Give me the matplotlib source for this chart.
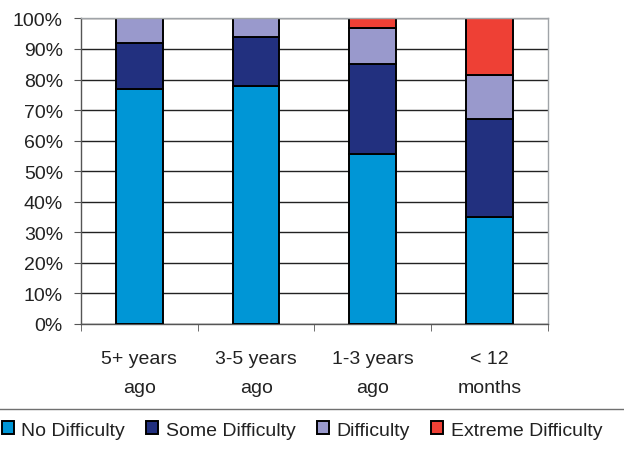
import matplotlib.pyplot as plt
import numpy as np
from matplotlib.lines import Line2D

plt.rcParams['font.family'] = ['Liberation Sans', 'DejaVu Sans']

categories = ['5+ years\nago', '3-5 years\nago', '1-3 years\nago', '< 12\nmonths']
series = ['No Difficulty', 'Some Difficulty', 'Difficulty', 'Extreme Difficulty']
no_difficulty = [77, 78, 55.5, 35]
some_difficulty = [15, 16, 29.5, 32]
difficulty = [8, 6, 12, 14.5]
extreme_difficulty = [0, 0, 3, 18.5]
colors = ['#0096D6', '#22307F', '#9999CC', '#EE4035']

fs = 14
fig = plt.figure(figsize=(6.24, 4.52), dpi=100)
ax = fig.add_axes([0.1298, 0.281, 0.878 - 0.1298, 0.957 - 0.281])

x = np.arange(len(categories))
bottom = np.zeros(len(categories))
for name, vals, col in zip(series, [no_difficulty, some_difficulty, difficulty, extreme_difficulty], colors):
    ax.bar(x, vals, 0.4, bottom=bottom, color=col, edgecolor='black', linewidth=1.4,
           label=name, zorder=3)
    bottom += np.array(vals)

ax.set_xlim(-0.5, 3.5)
ax.set_ylim(0, 100)
ax.set_yticks(np.arange(0, 101, 10))
ax.set_yticklabels([f'{v}%' for v in range(0, 101, 10)], fontsize=fs, color='#222222')
ax.yaxis.grid(True, color='#222222', linewidth=1)
ax.set_axisbelow(True)

# category labels at bar centers, ticks at boundaries
ax.set_xticks(x)
ax.set_xticklabels(categories, fontsize=fs, color='#222222', linespacing=1.9)
ax.tick_params(axis='x', which='major', length=0, pad=19)
ax.set_xticks(np.arange(-0.5, 4, 1), minor=True)
ax.tick_params(axis='x', which='minor', length=5, color='#555555', direction='out')
ax.tick_params(axis='y', length=5, color='#555555', direction='out', pad=8)

ax.spines['top'].set_color('#A0A4A8')
ax.spines['right'].set_color('#A0A4A8')
ax.spines['left'].set_color('#555555')
ax.spines['bottom'].set_color('#555555')
for s in ax.spines.values():
    s.set_linewidth(1)
ax.spines['top'].set_zorder(4)

fig.add_artist(Line2D([0, 1], [1 - 410 / 452, 1 - 410 / 452], color='#707070', linewidth=1))

handles, labels = ax.get_legend_handles_labels()
fig.legend(handles, labels, loc='center', bbox_to_anchor=(0.484, 1 - 431 / 452), ncol=4,
           frameon=False, fontsize=fs, handlelength=0.6, handleheight=0.6,
           handletextpad=0.4, columnspacing=1.1, labelcolor='#222222')

plt.savefig('out.png', dpi=100)
plt.close()
